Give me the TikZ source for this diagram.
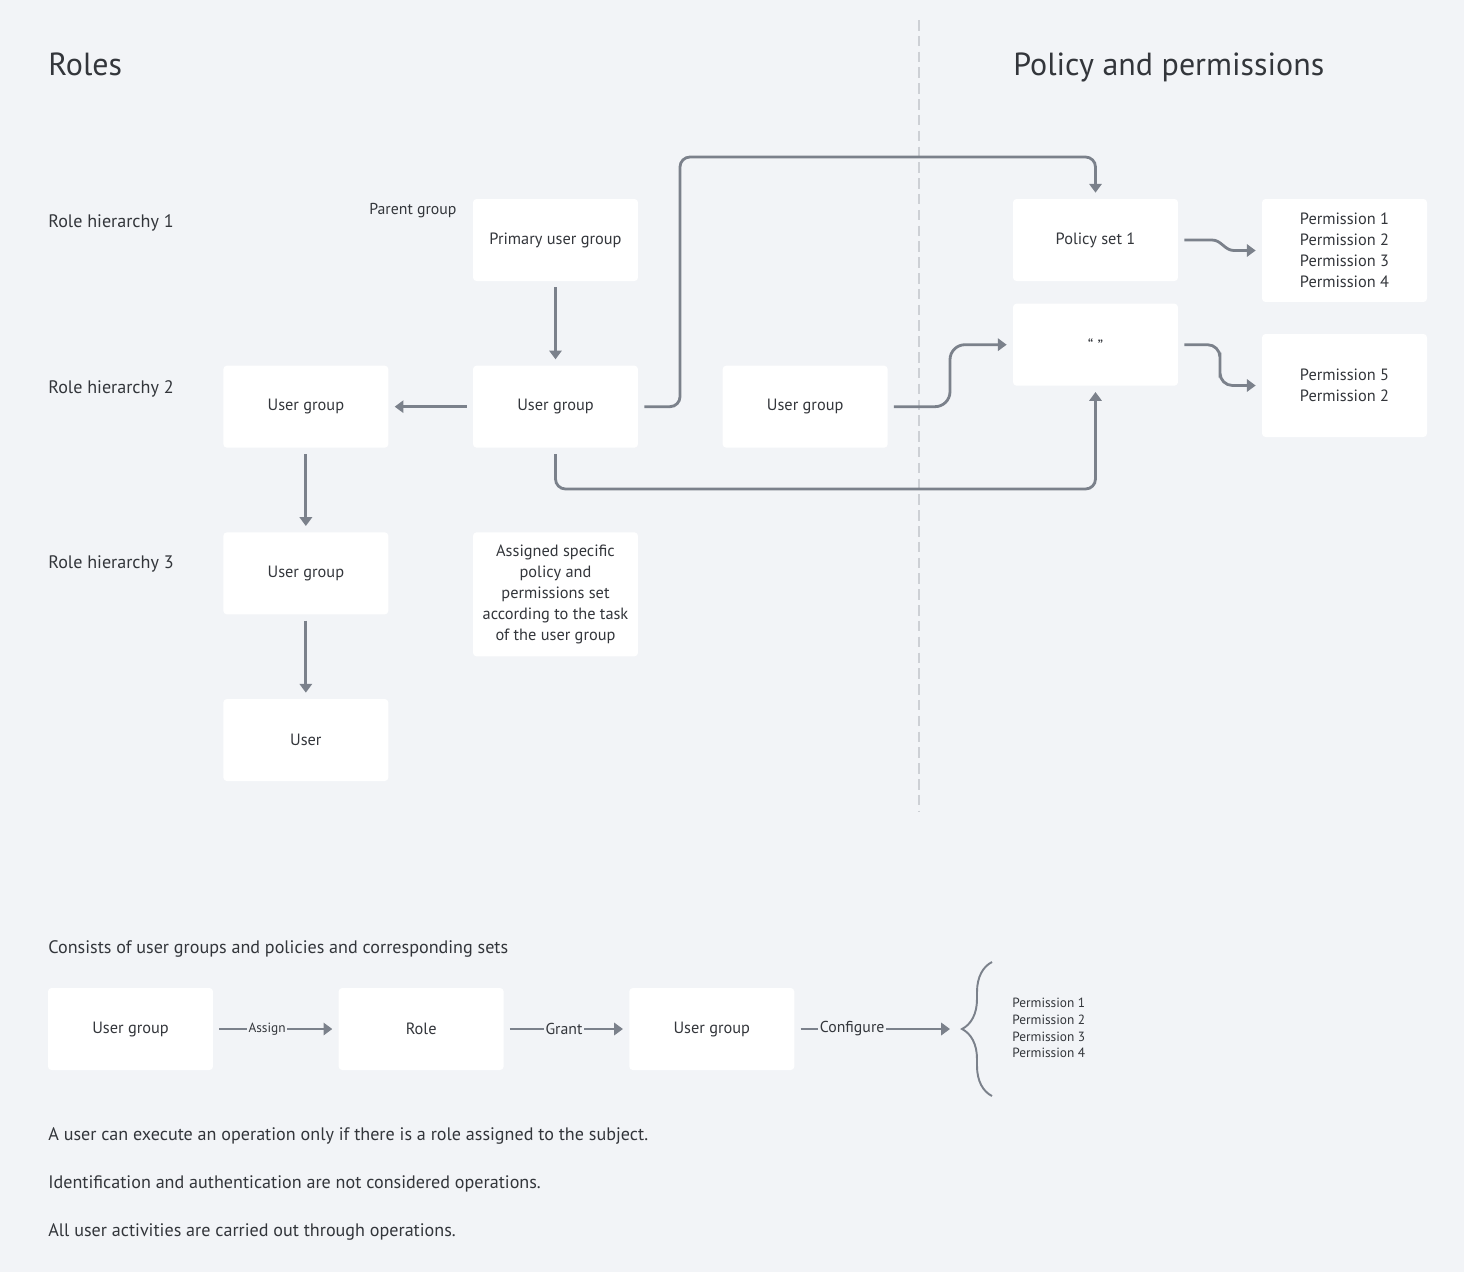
\documentclass[tikz,border=0pt]{standalone}
\usepackage{fontspec}
\setmainfont{PT Sans}
\usetikzlibrary{arrows.meta, positioning, quotes, decorations.pathreplacing}
\definecolor{canvas}{HTML}{F2F4F7}
\definecolor{ink}{HTML}{33363B}
\definecolor{wire}{HTML}{7B818B}
\definecolor{divider}{HTML}{CDD0D5}
\tikzstyle{every picture} = [node distance=1.68cm]
\tikzstyle{box} = [rectangle, fill=white, rounded corners=2pt, minimum width=3.3cm, minimum height=1.64cm, text=ink, align=center, font=\fontsize{9.3}{12}\selectfont]
\tikzstyle{flow} = [-{Triangle[length=5pt,width=7pt]}, draw=wire, line width=1.6pt, shorten <=0.12cm, shorten >=0.12cm]
\tikzstyle{rowtext} = [anchor=base west, inner sep=0pt, text=ink, font=\fontsize{10.3}{12}\selectfont]
\tikzstyle{title} = [anchor=base west, inner sep=0pt, text=ink, font=\fontsize{18.2}{22}\selectfont]

\begin{document}
\begin{tikzpicture} [x=0.02cm, y=-0.02cm, every edge quotes/.style={fill=canvas, text=ink, inner xsep=1pt, inner ysep=0pt, font=\fontsize{9}{10}\selectfont}]
            \fill[canvas] (0,0) rectangle (1464,1272);
            \draw[divider, line width=1.4pt, dash pattern=on 6pt off 3pt] (919,20) -- (919,812);

            \node (roles title) [title] at (48,75) {Roles};
            \node (policy title) [title] at (1013,75) {Policy and permissions};
            \node (row 1) [rowtext] at (48,227) {Role hierarchy 1};
            \node (row 2) [rowtext] at (48,393) {Role hierarchy 2};
            \node (row 3) [rowtext] at (48,568) {Role hierarchy 3};
            \node (parent) [rowtext, font=\fontsize{9}{10}\selectfont] at (369,214) {Parent group};

            \node (primary) [box] at (555.5,240) {Primary user group};
            \node (group 2b) [box, below=of primary] {User group};
            \node (group 2a) [box, left=of group 2b] {User group};
            \node (group 2c) [box, right=of group 2b] {User group};
            \node (group 3) [box, below=of group 2a] {User group};
            \node (user) [box, below=of group 3] {User};
            \node (note) [box, below=of group 2b, minimum height=2.48cm] {Assigned specific\\policy and\\permissions set\\according to the task\\of the user group};

            \node (policy 1) [box] at (1095.5,240) {Policy set 1};
            \node (quote) [box, below=0.44cm of policy 1] {“ ”};
            \node (perm 1) [box, minimum height=2.06cm] at (1344.5,250.5) {Permission 1\\Permission 2\\Permission 3\\Permission 4};
            \node (perm 2) [box, minimum height=2.06cm] at (1344.5,385.5) {Permission 5\\Permission 2};

            \coordinate (top bend) at (680,157);
            \coordinate (low bend) at (1095.5,489);
            \coordinate (jog) at (950,375);
            \coordinate (kink 1a) at (1212,240);
            \coordinate (kink 1b) at (1234,250.5);
            \coordinate (kink 2) at (1220,365);

            \path (primary) edge[flow] (group 2b)
                  (group 2b) edge[flow] (group 2a)
                  (group 2a) edge[flow] (group 3)
                  (group 3) edge[flow] (user);
            \draw[flow, rounded corners=0.2cm] (group 2b) -| (top bend) -| (policy 1);
            \draw[flow, rounded corners=0.2cm] (group 2b) |- (low bend) -- (quote);
            \draw[flow, rounded corners=0.3cm] (group 2c) -| (jog) |- (quote);
            \draw[flow] (policy 1) -- (kink 1a) to[out=0, in=180] (kink 1b) -- (perm 1);
            \draw[flow, rounded corners=0.25cm] (quote) -| (kink 2) |- (perm 2);

            % bottom legend
            \node (legend) [rowtext] at (48,953) {Consists of user groups and policies and corresponding sets};
            \node (legend group) [box] at (130.5,1029) {User group};
            \node (role) [box, right=2.5cm of legend group] {Role};
            \node (legend group 2) [box, right=2.5cm of role] {User group};
            \coordinate (brace tip) at (950,1029);

            \path (legend group) edge[flow, "Assign" {pos=0.43, font=\fontsize{7.6}{8}\selectfont}] (role)
                  (role) edge[flow, "Grant" {pos=0.48}] (legend group 2)
                  (legend group 2) edge[flow, shorten >=0pt, "Configure" {pos=0.37}] (brace tip);

            \draw[wire, line width=1.1pt, decorate, decoration={brace, amplitude=0.6cm}] (992,1096) -- (992,962);
            \node (brace list) [anchor=west, align=left, inner sep=0pt, text=ink, font=\fontsize{7.6}{9.6}\selectfont] at (1012,1028) {Permission 1\\Permission 2\\Permission 3\\Permission 4};

            \node (rule 1) [rowtext] at (48,1140) {A user can execute an operation only if there is a role assigned to the subject.};
            \node (rule 2) [rowtext] at (48,1188) {Identification and authentication are not considered operations.};
            \node (rule 3) [rowtext] at (48,1236) {All user activities are carried out through operations.};
        \end{tikzpicture}
\end{document}
